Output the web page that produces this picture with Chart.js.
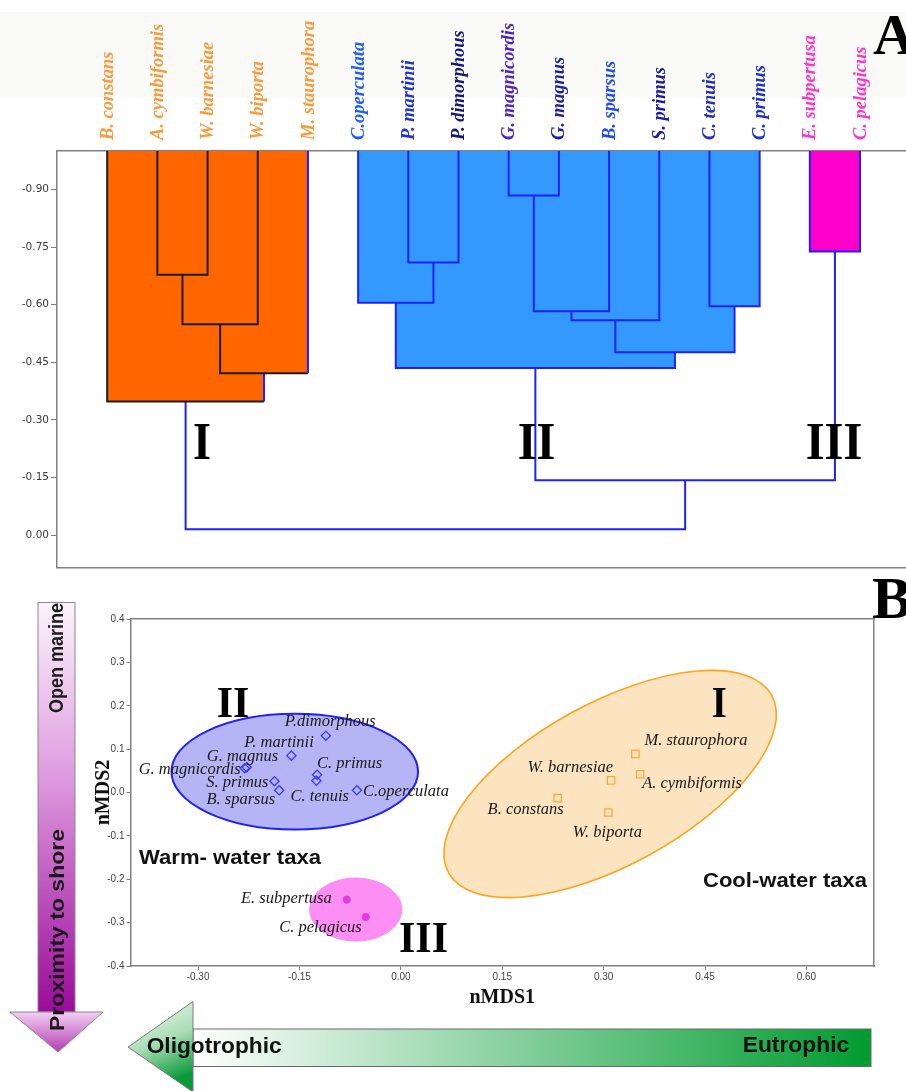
<!DOCTYPE html>
<html>
<head>
<meta charset="utf-8">
<script src="https://cdn.jsdelivr.net/npm/chart.js@4.4.1/dist/chart.umd.min.js"></script>
<style>
  html, body { margin: 0; padding: 0; background: #fff; }
  #wrap { position: relative; width: 906px; height: 1091px; overflow: hidden; }
  #band { position: absolute; left: 0; top: 12px; width: 906px; height: 85px; background: #fafaf8; }
  #cA { position: absolute; left: 0; top: 0; }
  #cB { position: absolute; left: 0; top: 580px; }
  #deco { position: absolute; left: 0; top: 0; pointer-events: none; }
</style>
</head>
<body>
<div id="wrap">
  <div id="band"></div>
  <canvas id="cA" width="906" height="576"></canvas>
  <canvas id="cB" width="906" height="511"></canvas>
  <svg id="deco" width="906" height="1091" xmlns="http://www.w3.org/2000/svg">
    <defs>
      <linearGradient id="gPurpleBody" x1="0" y1="0" x2="0" y2="1">
        <stop offset="0" stop-color="#fbf4fb"/>
        <stop offset="0.45" stop-color="#dc95dc"/>
        <stop offset="1" stop-color="#9a0a9a"/>
      </linearGradient>
      <linearGradient id="gPurpleHead" x1="0" y1="0" x2="0" y2="1">
        <stop offset="0" stop-color="#f2cff2"/>
        <stop offset="1" stop-color="#b53cb5"/>
      </linearGradient>
      <linearGradient id="gGreenBody" x1="0" y1="0" x2="1" y2="0">
        <stop offset="0" stop-color="#ffffff"/>
        <stop offset="1" stop-color="#009b30"/>
      </linearGradient>
      <linearGradient id="gGreenHead" x1="0" y1="0" x2="0.3" y2="1">
        <stop offset="0" stop-color="#f6fcf7"/>
        <stop offset="0.55" stop-color="#a8dcb4"/>
        <stop offset="1" stop-color="#0a9a3a"/>
      </linearGradient>
    </defs>

    <!-- panel letters -->
    <text x="873" y="54" font-family="Liberation Serif" font-weight="bold" font-size="58" fill="#000">A</text>
    <text x="872" y="618" font-family="Liberation Serif" font-weight="bold" font-size="60" fill="#000">B</text>

    <!-- cluster numerals, dendrogram -->
    <g font-family="Liberation Serif" font-weight="bold" font-size="52" fill="#000">
      <text x="193" y="459" textLength="18" lengthAdjust="spacingAndGlyphs">I</text>
      <text x="517.7" y="459" textLength="37.6" lengthAdjust="spacingAndGlyphs">II</text>
      <text x="805.7" y="459" textLength="56.6" lengthAdjust="spacingAndGlyphs">III</text>
    </g>

    <!-- cluster numerals, ordination -->
    <g font-family="Liberation Serif" font-weight="bold" font-size="44" fill="#000">
      <text x="216.7" y="717" textLength="32.6" lengthAdjust="spacingAndGlyphs">II</text>
      <text x="711.7" y="717" textLength="15" lengthAdjust="spacingAndGlyphs">I</text>
      <text x="399" y="951.7" textLength="49" lengthAdjust="spacingAndGlyphs">III</text>
    </g>

    <g font-family="Liberation Sans" font-weight="bold" font-size="21" fill="#111">
      <text x="139" y="864" textLength="182" lengthAdjust="spacingAndGlyphs">Warm- water taxa</text>
      <text x="703" y="887" textLength="164" lengthAdjust="spacingAndGlyphs">Cool-water taxa</text>
    </g>

    <!-- open marine to shore arrow -->
    <rect x="38" y="602.5" width="37" height="409.5" fill="url(#gPurpleBody)" stroke="#8a8a8a" stroke-width="1"/>
    <polygon points="10,1012 103,1012 58,1052" fill="url(#gPurpleHead)" stroke="#8a8a8a" stroke-width="1"/>
    <g font-family="Liberation Sans" font-weight="bold" font-size="20" fill="#1a1a1a">
      <text transform="translate(63,713) rotate(-90)" textLength="110" lengthAdjust="spacingAndGlyphs">Open marine</text>
      <text transform="translate(64,1031) rotate(-90)" textLength="202" lengthAdjust="spacingAndGlyphs">Proximity to shore</text>
    </g>

    <!-- trophic arrow -->
    <rect x="193" y="1029" width="678" height="37.5" fill="url(#gGreenBody)" stroke="#6a6a6a" stroke-width="1"/>
    <polygon points="193,1001.5 193,1092 128,1047" fill="url(#gGreenHead)" stroke="#7a7a7a" stroke-width="1"/>
    <g font-family="Liberation Sans" font-weight="bold" font-size="22" fill="#111">
      <text x="146.7" y="1053" textLength="135" lengthAdjust="spacingAndGlyphs">Oligotrophic</text>
      <text x="742.7" y="1052" textLength="106.6" lengthAdjust="spacingAndGlyphs">Eutrophic</text>
    </g>
  </svg>
</div>

<script>
// ---------- Dendrogram (panel A) ----------
const leafNames = ['B. constans', 'A. cymbiformis', 'W. barnesiae', 'W. biporta', 'M. staurophora',
  'C.operculata', 'P. martinii', 'P. dimorphous', 'G. magnicordis', 'G. magnus', 'B. sparsus',
  'S. primus', 'C. tenuis', 'C. primus', 'E. subpertusa', 'C. pelagicus'];
const leafGroup = [0, 0, 0, 0, 0, 1, 1, 1, 1, 1, 1, 1, 1, 1, 2, 2];
const leafColors = ['#f99a3c', '#f99a3c', '#f99a3c', '#f99a3c', '#f99a3c',
  '#1f5cff', '#1f33d6', '#15157f', '#4d22c8', '#1c1ca8', '#1f4cf0',
  '#1c1c99', '#1f2fbf', '#1f2fcf', '#ff33cc', '#ff33cc'];

// linkage: node ids 0-15 are leaves, merge k creates node 16+k
const mergeLeft   = [1, 16, 17, 0, 6, 5, 8, 22, 23, 12, 24, 21, 14, 27, 19];
const mergeRight  = [2, 3, 4, 18, 7, 20, 9, 10, 11, 13, 25, 26, 15, 28, 29];
const mergeHeight = [-0.678, -0.549, -0.421, -0.348, -0.710, -0.605, -0.884, -0.583,
  -0.559, -0.596, -0.476, -0.435, -0.738, -0.143, -0.015];
const distanceTicks = [-0.90, -0.75, -0.60, -0.45, -0.30, -0.15, 0.00];

const topDistance = -1.0;
const groupFill = ['#ff6600', '#3399ff', '#ff00cc'];
const linkBlue = '#2020ff';
const linkDark = '#1c1c1c';
const blueRightArm = [2, 3];

const nodeX = leafNames.map((_, i) => i);
const nodeH = leafNames.map(() => topDistance);
const nodeG = leafGroup.slice();
mergeLeft.forEach((l, k) => {
  const r = mergeRight[k];
  nodeX.push((nodeX[l] + nodeX[r]) / 2);
  nodeH.push(mergeHeight[k]);
  nodeG.push(nodeG[l] === nodeG[r] ? nodeG[l] : -1);
});

const dendroSets = [];
mergeLeft.forEach((l, k) => {
  const r = mergeRight[k];
  const h = mergeHeight[k];
  const g = nodeG[leafNames.length + k];
  if (g >= 0) {
    dendroSets.push({
      data: [{ x: nodeX[l], y: h }, { x: nodeX[r], y: h }],
      fill: { value: topDistance },
      backgroundColor: groupFill[g],
      borderWidth: 0,
      pointRadius: 0,
      order: 2
    });
  }
  const col = g === 0 ? linkDark : linkBlue;
  const set = {
    data: [{ x: nodeX[l], y: nodeH[l] }, { x: nodeX[l], y: h }, { x: nodeX[r], y: h }, { x: nodeX[r], y: nodeH[r] }],
    borderColor: col,
    borderWidth: 2,
    pointRadius: 0,
    fill: false,
    order: 1
  };
  if (blueRightArm.includes(k)) {
    set.segment = { borderColor: c => (c.p0DataIndex === 2 ? linkBlue : col) };
  }
  dendroSets.push(set);
});

const axisGray = '#808080';
const xMinA = -1, xMaxA = 15.916;

new Chart(document.getElementById('cA'), {
  type: 'line',
  data: { datasets: dendroSets },
  options: {
    responsive: false,
    animation: false,
    layout: { padding: { left: 0, right: 0, top: 0, bottom: 0 } },
    plugins: { legend: { display: false }, tooltip: { enabled: false } },
    scales: {
      x: {
        type: 'linear', position: 'bottom', min: xMinA, max: xMaxA,
        ticks: { display: false },
        grid: { display: false, drawTicks: false },
        border: { display: true, color: axisGray, width: 1.5 },
        afterFit: s => { s.height = 0; }
      },
      x2: {
        type: 'linear', position: 'top', min: xMinA, max: xMaxA,
        grid: { display: false, drawTicks: false },
        border: { display: true, color: axisGray, width: 1.5 },
        afterBuildTicks: s => { s.ticks = leafNames.map((_, i) => ({ value: i })); },
        ticks: {
          autoSkip: false, minRotation: 90, maxRotation: 90, padding: 11, labelOffset: 23,
          callback: (v, i) => leafNames[i],
          color: c => leafColors[c.index],
          font: { family: 'Liberation Serif', size: 18.5, style: 'italic', weight: 'bold' }
        },
        afterFit: s => { s.height = 151; }
      },
      y: {
        type: 'linear', reverse: true, min: topDistance, max: 0.085,
        afterBuildTicks: s => { s.ticks = distanceTicks.map(v => ({ value: v })); },
        ticks: {
          padding: 2, color: '#3a3a3a',
          font: { family: 'DejaVu Sans', size: 10.5 },
          callback: v => v.toFixed(2)
        },
        grid: { display: true, drawOnChartArea: false, drawTicks: true, tickLength: 6, color: axisGray },
        border: { display: true, color: axisGray, width: 1.5 },
        afterFit: s => { s.width = 57; }
      }
    }
  }
});

// ---------- nMDS ordination (panel B) ----------
const coolNames = ['M. staurophora', 'W. barnesiae', 'A. cymbiformis', 'B. constans', 'W. biporta'];
const coolX = [0.347, 0.311, 0.354, 0.232, 0.307];
const coolY = [0.089, 0.028, 0.042, -0.013, -0.046];

const warmNames = ['P.dimorphous', 'P. martinii', 'G. magnus', 'G. magnicordis', 'S. primus',
  'B. sparsus', 'C. primus', 'C. tenuis', 'C.operculata'];
const warmX = [-0.111, -0.162, -0.228, -0.231, -0.187, -0.180, -0.124, -0.125, -0.065];
const warmY = [0.131, 0.085, 0.058, 0.056, 0.026, 0.005, 0.041, 0.027, 0.005];

const pelagicNames = ['E. subpertusa', 'C. pelagicus'];
const pelagicX = [-0.080, -0.052];
const pelagicY = [-0.247, -0.287];

const mds1Ticks = [-0.30, -0.15, 0.00, 0.15, 0.30, 0.45, 0.60];
const mds2Ticks = [-0.4, -0.3, -0.2, -0.1, 0.0, 0.1, 0.2, 0.3, 0.4];

// cluster ellipses: centre and two semi-axis vectors, in nMDS units (I, II, III)
const ellipseCenterX = [0.3096, -0.157, -0.0668];
const ellipseCenterY = [0.0196, 0.048, -0.270];
const ellipseAxisA = [[0.2392, 0.2041], [0.1824, 0], [0.0688, 0]];
const ellipseAxisB = [[-0.0573, 0.1643], [0, 0.1333], [0, 0.0738]];

const ellipseFill = ['#fde4c0', '#b5b5f6', '#fd8ef3'];
const ellipseStroke = ['#ffa31a', '#1f1fff', null];
const ellipseStrokeWidth = [1.6, 2, 0];

// label placement relative to each marker: [dx, dy, align]
const coolLabelPos = [[9, -13, 'left'], [2, -13, 'right'], [2, 9, 'left'], [6, 12, 'right'], [-1, 20, 'center']];
const warmLabelPos = [[-41, -14, 'left'], [-47, -13, 'left'], [-40, -11, 'left'], [-4, 1, 'right'],
  [-6, 1, 'right'], [-4, 9, 'right'], [0, -11, 'left'], [-26, 16, 'left'], [6, 1, 'left']];
const pelagicLabelPos = [[-15, -1, 'right'], [-4, 11, 'right']];

const groupNames = [coolNames, warmNames, pelagicNames];
const groupLabelPos = [coolLabelPos, warmLabelPos, pelagicLabelPos];

const ellipsePlugin = {
  id: 'clusterEllipses',
  beforeDatasetsDraw(chart) {
    const { ctx } = chart;
    const x = chart.scales.x, y = chart.scales.y;
    ellipseCenterX.forEach((cxv, i) => {
      const cyv = ellipseCenterY[i];
      const px = x.getPixelForValue(cxv), py = y.getPixelForValue(cyv);
      const a = ellipseAxisA[i], b = ellipseAxisB[i];
      const ux = x.getPixelForValue(cxv + a[0]) - px, uy = y.getPixelForValue(cyv + a[1]) - py;
      const vx = x.getPixelForValue(cxv + b[0]) - px, vy = y.getPixelForValue(cyv + b[1]) - py;
      ctx.save();
      ctx.beginPath();
      ctx.save();
      ctx.transform(ux, uy, vx, vy, px, py);
      ctx.arc(0, 0, 1, 0, Math.PI * 2);
      ctx.restore();
      ctx.fillStyle = ellipseFill[i];
      ctx.fill();
      if (ellipseStroke[i]) {
        ctx.lineWidth = ellipseStrokeWidth[i];
        ctx.strokeStyle = ellipseStroke[i];
        ctx.stroke();
      }
      ctx.restore();
    });
  }
};

const labelPlugin = {
  id: 'speciesLabels',
  afterDatasetsDraw(chart) {
    const { ctx } = chart;
    ctx.save();
    ctx.font = 'italic 16.5px "Liberation Serif"';
    ctx.fillStyle = '#1a1a1a';
    ctx.textBaseline = 'middle';
    groupNames.forEach((names, g) => {
      const meta = chart.getDatasetMeta(g);
      names.forEach((name, i) => {
        const pt = meta.data[i];
        const [dx, dy, align] = groupLabelPos[g][i];
        ctx.textAlign = align;
        ctx.fillText(name, pt.x + dx, pt.y + dy);
      });
    });
    ctx.restore();
  }
};

const toPoints = (xs, ys) => xs.map((v, i) => ({ x: v, y: ys[i] }));

new Chart(document.getElementById('cB'), {
  type: 'scatter',
  data: {
    datasets: [
      { label: 'I', data: toPoints(coolX, coolY), pointStyle: 'rect', pointRadius: 5.2,
        borderColor: '#ffa733', backgroundColor: 'rgba(0,0,0,0)', borderWidth: 1.3 },
      { label: 'II', data: toPoints(warmX, warmY), pointStyle: 'rectRot', pointRadius: 4.6,
        borderColor: '#3a3aff', backgroundColor: 'rgba(0,0,0,0)', borderWidth: 1.3 },
      { label: 'III', data: toPoints(pelagicX, pelagicY), pointStyle: 'circle', pointRadius: 3.6,
        borderColor: '#e23ddc', backgroundColor: '#e23ddc', borderWidth: 1 }
    ]
  },
  plugins: [ellipsePlugin, labelPlugin],
  options: {
    responsive: false,
    animation: false,
    layout: { padding: { left: 0, right: 32, top: 39, bottom: 0 } },
    plugins: { legend: { display: false }, tooltip: { enabled: false } },
    scales: {
      x: {
        type: 'linear', position: 'bottom', min: -0.40, max: 0.70,
        afterBuildTicks: s => { s.ticks = mds1Ticks.map(v => ({ value: v })); },
        ticks: { padding: 1, color: '#444', font: { family: 'Liberation Sans', size: 10 }, callback: v => v.toFixed(2) },
        grid: { display: true, drawOnChartArea: false, drawTicks: true, tickLength: 4, color: axisGray },
        border: { display: true, color: axisGray, width: 1.5 },
        title: { display: true, text: 'nMDS1', color: '#111',
          font: { family: 'Liberation Serif', size: 20, weight: 'bold' }, padding: { top: 0, bottom: 81 } },
        afterFit: s => { s.height = 125; }
      },
      x2: {
        type: 'linear', position: 'top', min: -0.40, max: 0.70,
        ticks: { display: false }, grid: { display: false, drawTicks: false },
        border: { display: true, color: axisGray, width: 1.5 },
        afterFit: s => { s.height = 0; }
      },
      y: {
        type: 'linear', position: 'left', min: -0.4, max: 0.4,
        afterBuildTicks: s => { s.ticks = mds2Ticks.map(v => ({ value: v })); },
        ticks: { padding: 2, color: '#444', font: { family: 'Liberation Sans', size: 10 }, callback: v => v.toFixed(1) },
        grid: { display: true, drawOnChartArea: false, drawTicks: true, tickLength: 4, color: axisGray },
        border: { display: true, color: axisGray, width: 1.5 },
        title: { display: true, text: 'nMDS2', color: '#111',
          font: { family: 'Liberation Serif', size: 20, weight: 'bold' }, padding: { top: 92, bottom: 0 } },
        afterFit: s => { s.width = 130.5; }
      },
      y2: {
        type: 'linear', position: 'right', min: -0.4, max: 0.4,
        ticks: { display: false }, grid: { display: false, drawTicks: false },
        border: { display: true, color: axisGray, width: 1.5 },
        afterFit: s => { s.width = 0; }
      }
    }
  }
});
</script>
</body>
</html>
